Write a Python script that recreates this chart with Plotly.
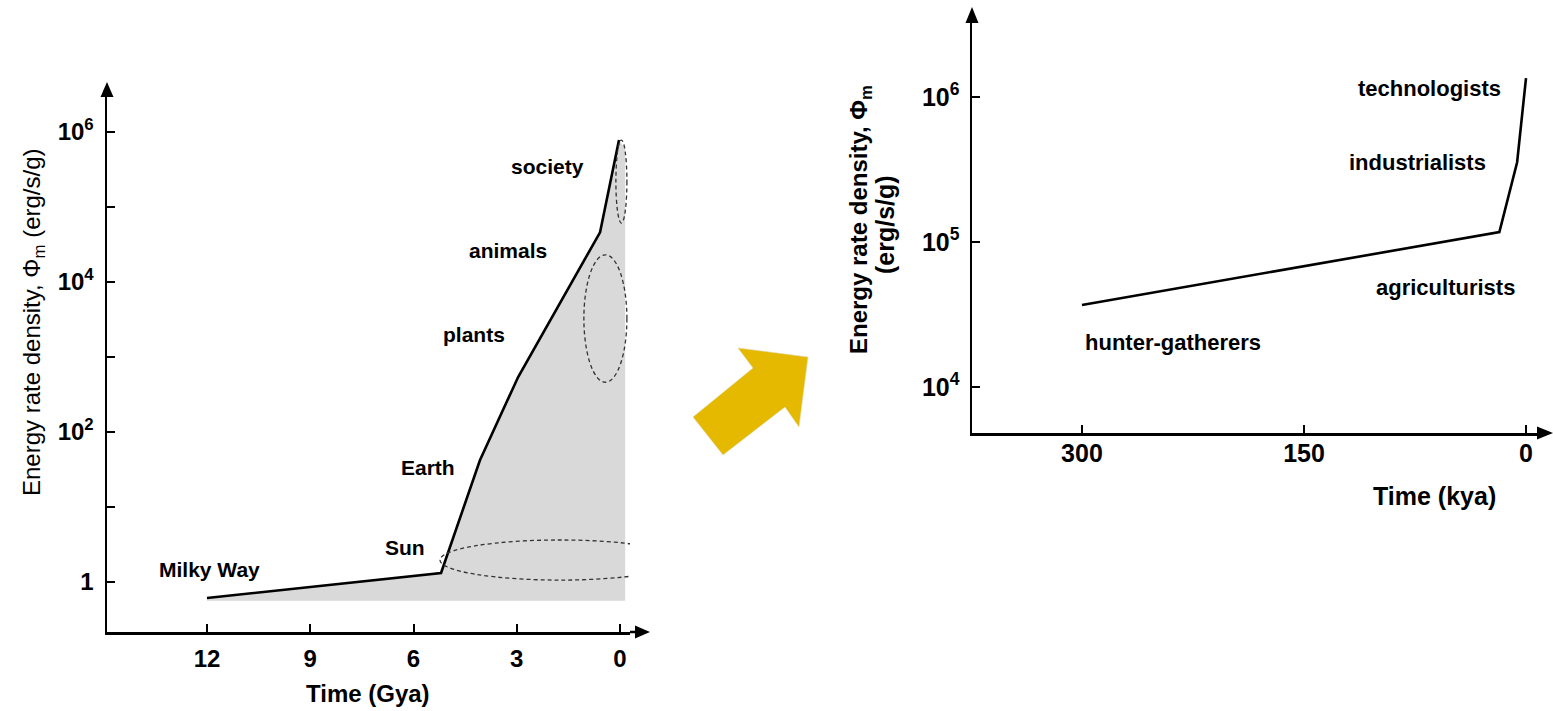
import plotly.graph_objects as go

W, H = 1553, 711

# ---------------- data: left panel (cosmic evolution) ----------------
gya_line = [12, 5.2, 4.07, 2.96, 0.58, 0.03]
phi_line = [0.61, 1.32, 42, 541, 4.6e4, 7.8e5]
gya_shade = [12, 5.2, 4.07, 2.96, 0.58, 0.03, -0.15, -0.15, 12]
phi_shade = [0.61, 1.32, 42, 541, 4.6e4, 7.8e5, 6.0e5, 0.56, 0.56]
left_xticks = [12, 9, 6, 3, 0]
left_yticks = [1, 10, 100, 1e3, 1e4, 1e5, 1e6]
left_ytext = ["1", "", "10<sup>2</sup>", "", "10<sup>4</sup>", "", "10<sup>6</sup>"]
left_labels = ["Milky Way", "Sun", "Earth", "plants", "animals", "society"]

# ---------------- data: right panel (cultural evolution) ----------------
kya_line = [300, 18, 6, 0]
phi_right = [3.68e4, 1.17e5, 3.55e5, 1.35e6]
right_xticks = [300, 150, 0]
right_yticks = [1e4, 1e5, 1e6]
right_ytext = ["10<sup>4</sup>", "10<sup>5</sup>", "10<sup>6</sup>"]
right_labels = ["technologists", "industrialists", "agriculturists", "hunter-gatherers"]

FONT = "Liberation Sans, Arial, Helvetica, sans-serif"


def px(x):
    return x / W


def py(y):
    return 1 - y / H


fig = go.Figure()

fig.add_trace(go.Scatter(
    x=gya_shade, y=phi_shade, xaxis="x", yaxis="y", mode="lines",
    fill="toself", fillcolor="#d9d9d9", line=dict(width=0, color="#d9d9d9"),
    hoverinfo="skip", showlegend=False))
fig.add_trace(go.Scatter(
    x=gya_line, y=phi_line, xaxis="x", yaxis="y", mode="lines",
    line=dict(color="black", width=2.6), showlegend=False))
fig.add_trace(go.Scatter(
    x=kya_line, y=phi_right, xaxis="x2", yaxis="y2", mode="lines",
    line=dict(color="black", width=2.6), showlegend=False))

axis_common = dict(showline=True, linecolor="black", linewidth=2.5,
                   ticks="inside", ticklen=8, tickwidth=2, tickcolor="black",
                   showgrid=False, zeroline=False, fixedrange=True)

fig.update_layout(
    width=W, height=H, margin=dict(l=0, r=0, t=0, b=0),
    paper_bgcolor="white", plot_bgcolor="rgba(0,0,0,0)",
    font=dict(family=FONT, color="black"),
    xaxis=dict(domain=[px(107), px(630)], range=[14.905, -0.29], anchor="y",
               tickvals=left_xticks, ticktext=[str(v) for v in left_xticks],
               tickfont=dict(size=24, weight="bold"), ticklabelstandoff=4,
               **axis_common),
    yaxis=dict(domain=[py(632), py(95)], type="log", range=[-0.667, 6.493], anchor="x",
               tickvals=left_yticks, ticktext=left_ytext,
               tickfont=dict(size=24, weight="bold"), ticklabelstandoff=6,
               **axis_common),
    xaxis2=dict(domain=[px(972), px(1538)], range=[374.3, -8.1], anchor="y2",
                tickvals=right_xticks, ticktext=[str(v) for v in right_xticks],
                tickfont=dict(size=25, weight="bold"), ticklabelstandoff=-4,
                **axis_common),
    yaxis2=dict(domain=[py(433), py(22)], type="log", range=[3.683, 6.517], anchor="x2",
                tickvals=right_yticks, ticktext=right_ytext,
                tickfont=dict(size=25, weight="bold"), ticklabelstandoff=5,
                **axis_common),
)

shapes = []
# dashed ellipses on left panel
dash_line = dict(color="#333333", width=1.3, dash="4px,3px")
shapes.append(dict(type="circle", xref="x", yref="y", x0=0.12, x1=-0.2,
                   y0=6.1e4, y1=7.8e5, line=dash_line, layer="above"))
shapes.append(dict(type="circle", xref="x", yref="y", x0=1.05, x1=-0.2,
                   y0=460, y1=2.3e4, line=dash_line, layer="above"))
shapes.append(dict(type="circle", xref="x", yref="y", x0=5.23, x1=-1.74,
                   y0=1.06, y1=3.63, line=dash_line, layer="above"))


def poly(points):
    return "M " + " L ".join(f"{px(x):.5f},{py(y):.5f}" for x, y in points) + " Z"


# axis arrow heads and extensions
shapes.append(dict(type="path", xref="paper", yref="paper",
                   path=poly([(107, 82), (100.5, 97), (113.5, 97)]),
                   fillcolor="black", line=dict(width=0)))
shapes.append(dict(type="line", xref="paper", yref="paper",
                   x0=px(630), x1=px(638), y0=py(632), y1=py(632),
                   line=dict(color="black", width=2.5)))
shapes.append(dict(type="path", xref="paper", yref="paper",
                   path=poly([(650, 632), (635, 625.5), (635, 638.5)]),
                   fillcolor="black", line=dict(width=0)))
shapes.append(dict(type="path", xref="paper", yref="paper",
                   path=poly([(972, 7), (965.5, 23), (978.5, 23)]),
                   fillcolor="black", line=dict(width=0)))
shapes.append(dict(type="path", xref="paper", yref="paper",
                   path=poly([(1553, 433), (1537, 426.5), (1537, 439.5)]),
                   fillcolor="black", line=dict(width=0)))

# yellow arrow between panels
shapes.append(dict(type="path", xref="paper", yref="paper",
                   path=poly([(693, 417), (723, 455), (785, 407), (799, 427),
                              (808, 357), (738, 348), (753, 368)]),
                   fillcolor="rgb(228,185,0)", line=dict(width=0.6, color="#e0d8b0")))

fig.update_layout(shapes=shapes)

ann = []


def label(text, x, y, size, bold=True, angle=0):
    ann.append(dict(text=text, x=px(x), y=py(y), xref="paper", yref="paper",
                    xanchor="center", yanchor="middle", showarrow=False,
                    textangle=angle,
                    font=dict(size=size, family=FONT, color="black",
                              weight="bold" if bold else "normal")))


left_pos = [(209, 569), (405, 547), (428, 468), (474, 335), (508, 250), (547, 167)]
for t, (x, y) in zip(left_labels, left_pos):
    label(t, x, y, 21)

right_pos = [(1429, 89), (1417, 162), (1445, 287), (1173, 342)]
for t, (x, y) in zip(right_labels, right_pos):
    label(t, x, y, 22)

label("Time (Gya)", 368, 693, 24)
label("Time (kya)", 1434, 496, 25)
label("Energy rate density, Φ<sub>m</sub> (erg/s/g)", 33, 322, 24, bold=False, angle=-90)
label("Energy rate density, Φ<sub>m</sub>", 860, 220, 24, angle=-90)
label("(erg/s/g)", 885, 225, 25, angle=-90)

fig.update_layout(annotations=ann)

fig.write_html("out.html", config={"displayModeBar": False, "staticPlot": True},
               post_script="document.body.style.margin='0';document.body.style.overflow='hidden';")
